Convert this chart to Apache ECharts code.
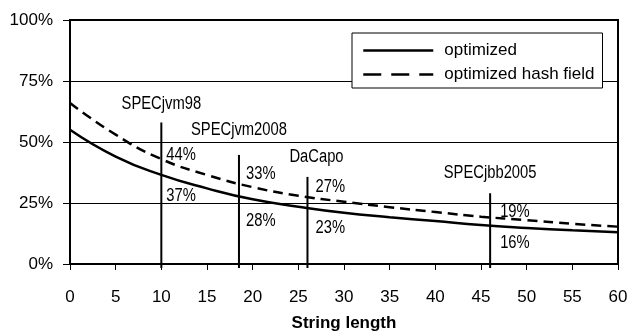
<!DOCTYPE html>
<html>
<head>
<meta charset="utf-8">
<script src="https://cdn.jsdelivr.net/npm/echarts@6/dist/echarts.min.js"></script>
<style>
  html, body { margin: 0; padding: 0; background: #fff; }
  #chart { width: 629px; height: 333px; }
</style>
</head>
<body>
<div id="chart"></div>
<script>
// string length (x) and overhead in % for both variants
const lengths = [0, 5, 10, 15, 20, 25, 30, 35, 40, 45, 50, 55, 60]
const optimized = [55, 44, 36.5, 31, 26.5, 23.5, 21, 19.2, 17.6, 16, 14.8, 13.8, 13]
const optimizedHash = [66, 53, 43, 36.5, 31.5, 28, 25.5, 23.3, 21.3, 19.4, 18, 16.5, 15.3]

// benchmark average string lengths
const benchNames = ['SPECjvm98', 'SPECjvm2008', 'DaCapo', 'SPECjbb2005']
const benchX = [10, 18.5, 26, 46]
const benchTop = [58, 44.7, 35.7, 29]
const benchHashPct = [44, 33, 27, 19]
const benchOptPct = [37, 28, 23, 16]

const yTicks = [0, 25, 50, 75, 100]

const font = '"Liberation Sans", Arial, sans-serif'
// label placement tweaks (pixels)
const nameUp = [18, 25, 20, 20]
const nameDx = [0, 0, 9, 0]
const pctDx = [5, 7, 8, 10]
const hashDy = [-1.6, -9.5, -11.4, -5.9]
const optDy = [22.3, 25.3, 20.1, 18]

const chart = echarts.init(document.getElementById('chart'))

function renderBench (params, api) {
  const i = params.dataIndex
  const x = api.value(0)
  const base = api.coord([x, 0])
  const top = api.coord([x, api.value(1)])
  const hashY = api.coord([x, api.value(2)])[1]
  const optY = api.coord([x, api.value(3)])[1]
  // narrow text like the original figure
  const txt = (s, px, py, align) => ({
    type: 'text',
    x: px,
    y: py,
    scaleX: 0.82,
    style: { text: s, x: 0, y: 0, align: align, verticalAlign: 'middle', fill: '#000', fontSize: 18, fontFamily: font }
  })
  return {
    type: 'group',
    children: [
      { type: 'line', shape: { x1: base[0], y1: base[1] + 4, x2: top[0], y2: top[1] }, style: { stroke: '#000', lineWidth: 2 } },
      txt(benchNames[i], top[0] + nameDx[i], top[1] - nameUp[i], 'center'),
      txt(api.value(2) + '%', top[0] + pctDx[i], hashY + hashDy[i], 'left'),
      txt(api.value(3) + '%', top[0] + pctDx[i], optY + optDy[i], 'left')
    ]
  }
}

chart.setOption({
  animation: false,
  textStyle: { fontFamily: font },
  grid: {
    left: 70, right: 11, top: 20, bottom: 69,
    outerBoundsMode: 'none',
    containLabel: false,
    show: true, borderColor: '#000', borderWidth: 2, backgroundColor: 'transparent'
  },
  legend: {
    orient: 'vertical',
    left: 352,
    top: 33,
    width: 253,
    padding: [9, 8, 5, 10],
    itemWidth: 70,
    itemHeight: 14,
    itemGap: 7,
    backgroundColor: '#fff',
    borderColor: '#000',
    borderWidth: 1,
    borderRadius: 0,
    itemStyle: { opacity: 0 },
    textStyle: { color: '#000', fontSize: 17, fontFamily: font, padding: [0, 0, 0, 6] },
    data: [
      { name: 'optimized', lineStyle: { width: 2.5, type: 'solid' } },
      { name: 'optimized hash field', lineStyle: { width: 2.5, type: [18, 10] } }
    ]
  },
  xAxis: {
    type: 'value',
    min: 0,
    max: 60,
    interval: 5,
    name: 'String length',
    nameLocation: 'middle',
    nameGap: 51,
    nameTextStyle: { color: '#000', fontSize: 17, fontWeight: 'bold', fontFamily: font },
    axisLine: { lineStyle: { color: '#000', width: 2 } },
    axisTick: { show: true, length: 6, lineStyle: { color: '#000', width: 1 } },
    axisLabel: { color: '#000', fontSize: 17, margin: 25, fontFamily: font },
    splitLine: { show: false }
  },
  yAxis: {
    type: 'value',
    min: 0,
    max: 100,
    interval: 25,
    axisLine: { show: true, lineStyle: { color: '#000', width: 2 } },
    axisTick: { show: true, length: 7, lineStyle: { color: '#000', width: 1 } },
    axisLabel: { color: '#000', fontSize: 17, margin: 17, fontFamily: font, formatter: v => yTicks.includes(v) ? v + '%' : '' },
    splitLine: { show: true, lineStyle: { color: '#000', width: 1 } }
  },
  series: [
    {
      type: 'custom',
      silent: true,
      clip: false,
      z: 1,
      renderItem: renderBench,
      data: benchX.map((x, i) => [x, benchTop[i], benchHashPct[i], benchOptPct[i]])
    },
    {
      name: 'optimized',
      type: 'line',
      smooth: true,
      symbol: 'none',
      z: 3,
      lineStyle: { color: '#000', width: 2.5 },
      itemStyle: { color: '#000' },
      data: lengths.map((x, i) => [x, optimized[i]])
    },
    {
      name: 'optimized hash field',
      type: 'line',
      smooth: true,
      symbol: 'none',
      z: 3,
      lineStyle: { color: '#000', width: 2.5, type: [10, 6] },
      itemStyle: { color: '#000' },
      data: lengths.map((x, i) => [x, optimizedHash[i]])
    }
  ]
})
</script>
</body>
</html>
